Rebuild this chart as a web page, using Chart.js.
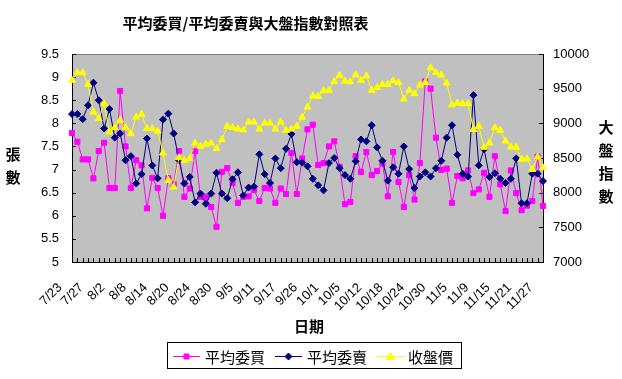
<!DOCTYPE html>
<html><head><meta charset="utf-8">
<script src="https://cdn.jsdelivr.net/npm/chart.js@4.4.0/dist/chart.umd.min.js"></script>
<style>html,body{margin:0;padding:0;background:#fff;}canvas{display:block;}</style>
</head><body>
<canvas id="c" width="622" height="379"></canvas>
<script>
// ---- data ----
const dates = ['7/23','7/24','7/25','7/26','7/27','7/30','7/31','8/1','8/2','8/3',
'8/6','8/7','8/8','8/9','8/10','8/13','8/14','8/15','8/16','8/17',
'8/20','8/21','8/22','8/23','8/24','8/27','8/28','8/29','8/30','8/31',
'9/3','9/4','9/5','9/6','9/7','9/10','9/11','9/12','9/13','9/14',
'9/17','9/19','9/20','9/21','9/26','9/27','9/28','9/29','10/1','10/2',
'10/3','10/4','10/5','10/8','10/9','10/11','10/12','10/15','10/16','10/17',
'10/18','10/19','10/22','10/23','10/24','10/25','10/26','10/29','10/30','10/31',
'11/1','11/2','11/5','11/6','11/7','11/8','11/9','11/12','11/13','11/14',
'11/15','11/16','11/19','11/20','11/21','11/22','11/23','11/26','11/27'];
const labelEvery = 4;
const avgBuy = [7.79,7.60,7.22,7.22,6.81,7.40,7.58,6.60,6.60,8.70,
7.50,6.60,7.20,7.09,6.16,6.82,6.60,6.00,6.81,6.68,
7.40,6.41,6.59,7.40,6.41,6.41,6.19,5.76,6.95,7.03,
6.71,6.28,6.41,6.42,6.56,6.32,6.60,6.59,6.28,6.59,
6.47,7.36,6.47,7.24,7.87,7.97,7.10,7.14,7.50,7.61,
7.06,6.25,6.30,7.29,6.95,7.38,6.88,6.97,7.13,6.42,
7.38,6.73,6.19,6.88,6.35,7.14,8.91,8.75,7.69,6.99,
7.02,6.28,6.86,6.81,6.98,6.49,6.57,6.93,6.41,7.29,
6.68,6.10,6.98,6.49,6.12,6.22,6.32,7.28,6.21];
const avgSell = [8.20,8.20,8.09,8.39,8.88,8.50,7.89,8.31,7.69,7.78,
7.20,7.29,6.70,6.90,7.67,7.09,6.81,8.08,8.21,7.78,
7.20,6.70,6.84,6.29,6.48,6.26,6.48,6.93,6.48,6.38,
6.79,6.94,6.44,6.61,6.63,7.33,6.90,6.71,7.24,7.03,
7.45,7.77,7.16,7.15,7.07,6.80,6.66,6.55,7.14,7.25,
7.03,6.88,6.80,7.18,7.65,7.61,7.96,7.48,7.19,6.76,
7.05,6.91,7.50,7.01,6.60,6.85,6.94,6.85,7.03,7.19,
7.69,7.96,7.32,6.91,6.85,8.61,7.09,7.44,6.84,6.92,
6.80,6.71,6.80,7.24,6.27,6.27,6.91,6.91,6.75];
const closeIndex = [9620,9731,9731,9562,9163,9068,9284,8875,8938,9043,
8938,8851,9091,9130,8924,8924,8889,8572,8178,8082,
8505,8467,8491,8716,8668,8697,8716,8635,8765,8957,
8940,8920,8905,9019,9019,8918,9004,9004,8918,9019,
8899,8918,8957,9087,9235,9395,9389,9470,9476,9603,
9692,9610,9598,9700,9620,9685,9476,9515,9560,9560,
9615,9590,9350,9476,9428,9553,9590,9803,9733,9697,
9581,9267,9293,9284,9284,8912,8957,8654,8716,8935,
8899,8745,8658,8654,8482,8488,8335,8515,8358];
const seriesNames = ['平均委買','平均委賣','收盤價'];
const leftRange = [5, 9.5, 0.5];
const rightRange = [7000, 10000, 500];
const titleText = '平均委買/平均委賣與大盤指數對照表';
const xTitle = '日期';
const leftTitle = '張數';
const rightTitle = '大盤指數';

const NUM_FONT = "'Liberation Sans', Arial, sans-serif";
const CJK_FONT = "'Noto Sans CJK TC', 'Noto Sans CJK SC', sans-serif";
const colors = ['#FF00FF', '#000080', '#FFFF00'];

function drawMarker(ctx, style, x, y, color){
  ctx.fillStyle = color; ctx.strokeStyle = color; ctx.lineWidth = 1;
  ctx.beginPath();
  if (style === 'rect') { ctx.rect(x-2.5, y-2.5, 5, 5); }
  else if (style === 'rectRot') { ctx.moveTo(x, y-3.5); ctx.lineTo(x+3.5, y); ctx.lineTo(x, y+3.5); ctx.lineTo(x-3.5, y); ctx.closePath(); }
  else { ctx.moveTo(x, y-4); ctx.lineTo(x+4, y+3); ctx.lineTo(x-4, y+3); ctx.closePath(); }
  ctx.fill(); ctx.stroke();
}

const deco = {
  id: 'deco',
  beforeDraw(chart){
    const {ctx, chartArea: a} = chart;
    ctx.save();
    ctx.fillStyle = '#fff'; ctx.fillRect(0, 0, chart.width, chart.height);
    ctx.fillStyle = '#C0C0C0'; ctx.fillRect(a.left, a.top, a.right - a.left, a.bottom - a.top);
    ctx.restore();
  },
  beforeDatasetsDraw(chart){
    const {ctx, chartArea: a, scales} = chart;
    ctx.save();
    ctx.strokeStyle = '#808080'; ctx.lineWidth = 1;
    ctx.beginPath(); ctx.moveTo(a.left, a.top + 0.5); ctx.lineTo(a.right, a.top + 0.5); ctx.stroke();
    ctx.strokeStyle = '#000'; ctx.beginPath();
    scales.x.ticks.forEach((t, i) => {
      const px = Math.round(scales.x.getPixelForTick(i)) + 0.5;
      ctx.moveTo(px, a.bottom); ctx.lineTo(px, a.bottom - 4);
    });
    scales.y.ticks.forEach((t, i) => {
      const py = Math.round(scales.y.getPixelForTick(i)) + 0.5;
      ctx.moveTo(a.left, py); ctx.lineTo(a.left + 4, py);
    });
    scales.y1.ticks.forEach((t, i) => {
      const py = Math.round(scales.y1.getPixelForTick(i)) + 0.5;
      ctx.moveTo(a.right, py); ctx.lineTo(a.right - 4, py);
    });
    ctx.stroke();
    ctx.restore();
  },
  afterDraw(chart){
    const ctx = chart.ctx;
    ctx.save();
    ctx.fillStyle = '#000';
    ctx.textAlign = 'center'; ctx.textBaseline = 'middle';
    ctx.font = 'bold 15px ' + CJK_FONT;
    ctx.fillText(titleText, 245.5, 23);
    ctx.fillText(xTitle, 309, 326);
    [...leftTitle].forEach((ch, i) => ctx.fillText(ch, 13, 154 + i * 23));
    [...rightTitle].forEach((ch, i) => ctx.fillText(ch, 606, 127 + i * 23));
    // legend
    ctx.strokeStyle = '#000'; ctx.lineWidth = 1;
    ctx.strokeRect(167.5, 342.5, 294, 26);
    const items = [
      {lx: 173, mx: 186.5, tx: 205},
      {lx: 275, mx: 288.5, tx: 307},
      {lx: 377, mx: 390.5, tx: 408}
    ];
    const styles = ['rect', 'rectRot', 'triangle'];
    ctx.font = '15px ' + CJK_FONT; ctx.textAlign = 'left';
    items.forEach((it, i) => {
      ctx.strokeStyle = colors[i]; ctx.lineWidth = 1;
      ctx.beginPath(); ctx.moveTo(it.lx, 356.5); ctx.lineTo(it.lx + 27, 356.5); ctx.stroke();
      drawMarker(ctx, styles[i], it.mx, 356.5, colors[i]);
      ctx.fillStyle = '#000';
      ctx.fillText(seriesNames[i], it.tx, 357);
    });
    ctx.restore();
  }
};

new Chart(document.getElementById('c'), {
  type: 'line',
  data: {
    labels: dates,
    datasets: [
      {label: seriesNames[0], data: avgBuy, yAxisID: 'y', borderColor: colors[0], backgroundColor: colors[0],
       borderWidth: 1, pointStyle: 'rect', pointRadius: 3.6, pointBorderWidth: 1, tension: 0, order: 3},
      {label: seriesNames[1], data: avgSell, yAxisID: 'y', borderColor: colors[1], backgroundColor: colors[1],
       borderWidth: 1, pointStyle: 'rectRot', pointRadius: 3.5, pointBorderWidth: 1, tension: 0, order: 2},
      {label: seriesNames[2], data: closeIndex, yAxisID: 'y1', borderColor: colors[2], backgroundColor: colors[2],
       borderWidth: 1, pointStyle: 'triangle', pointRadius: 4, pointBorderWidth: 1, tension: 0, order: 1}
    ]
  },
  options: {
    responsive: false, animation: false, devicePixelRatio: 1, events: [],
    layout: {padding: {left: 0, right: 0, top: 54, bottom: 67}},
    plugins: {legend: {display: false}, title: {display: false}, tooltip: {enabled: false}},
    scales: {
      x: {
        type: 'category', offset: false,
        grid: {display: false, drawTicks: false},
        border: {display: true, color: '#000', width: 1},
        ticks: {autoSkip: false, minRotation: 45, maxRotation: 45, padding: 18, labelOffset: -12,
          color: '#000', font: {family: NUM_FONT, size: 13},
          callback: (v, i) => (i % labelEvery === 0 ? dates[i] : '')},
        afterFit: s => { s.height = 50; }
      },
      y: {
        position: 'left', min: leftRange[0], max: leftRange[1],
        grid: {display: false, drawTicks: false},
        border: {display: true, color: '#000', width: 1},
        ticks: {stepSize: leftRange[2], padding: 13, color: '#000', font: {family: NUM_FONT, size: 13},
          callback: v => String(v)},
        afterFit: s => { s.width = 72; }
      },
      y1: {
        position: 'right', min: rightRange[0], max: rightRange[1],
        grid: {display: false, drawTicks: false},
        border: {display: true, color: '#000', width: 1},
        ticks: {stepSize: rightRange[2], padding: 10, color: '#000', font: {family: NUM_FONT, size: 13},
          callback: v => String(v)},
        afterFit: s => { s.width = 79; }
      }
    }
  },
  plugins: [deco]
});
</script>
</body></html>
